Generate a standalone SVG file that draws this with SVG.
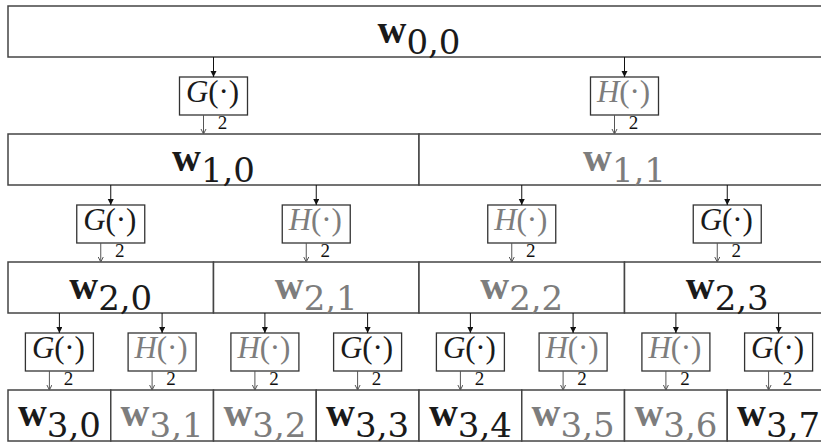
<svg xmlns="http://www.w3.org/2000/svg" width="821" height="444" viewBox="0 0 821 444">
<style>
.cell{fill:#fff;stroke:#444;stroke-width:1.5}
.box{fill:#fff;stroke:#333;stroke-width:1.3}
.lab{font-family:"Liberation Serif",serif;text-anchor:middle}
.w{font-weight:bold;font-size:40px}
.s{font-family:"DejaVu Serif",serif;font-size:34px}
.k{fill:#1a1a1a}
.g{fill:#7d7d7d}
.f{font-family:"Liberation Serif",serif;font-size:31px;text-anchor:middle}
.two{font-family:"Liberation Serif",serif;font-size:19px;fill:#111;text-anchor:middle}
.in{stroke:#111;stroke-width:1;marker-end:url(#ah)}
.out{stroke:#555;stroke-width:1;marker-end:url(#oh)}
</style>
<defs>
<marker id="ah" markerWidth="8" markerHeight="8" refX="6" refY="3" orient="auto" markerUnits="userSpaceOnUse"><path d="M0,0 L6,3 L0,6 Z" fill="#111"/></marker>
<marker id="oh" markerWidth="8" markerHeight="8" refX="5" refY="3" orient="auto" markerUnits="userSpaceOnUse"><path d="M0,0.5 L5,3 L0,5.5" fill="none" stroke="#555" stroke-width="1"/></marker>
</defs>
<rect width="821" height="444" fill="#fff"/>

<!-- Row 0 -->
<g id="w00"><rect class="cell" x="8" y="6" width="822" height="51"/><text class="lab k" x="419" y="43"><tspan class="w">w</tspan><tspan class="s" dy="11">0,0</tspan></text></g>

<!-- Row 1 -->
<g id="w10"><rect class="cell" x="8" y="134" width="411" height="51"/><text class="lab k" x="213.5" y="171"><tspan class="w">w</tspan><tspan class="s" dy="11">1,0</tspan></text></g>
<g id="w11"><rect class="cell" x="419" y="134" width="411" height="51"/><text class="lab g" x="624.5" y="171"><tspan class="w">w</tspan><tspan class="s" dy="11">1,1</tspan></text></g>

<!-- Row 2 -->
<g id="w20"><rect class="cell" x="8" y="262" width="205.5" height="51"/><text class="lab k" x="110.75" y="299"><tspan class="w">w</tspan><tspan class="s" dy="11">2,0</tspan></text></g>
<g id="w21"><rect class="cell" x="213.5" y="262" width="205.5" height="51"/><text class="lab g" x="316.25" y="299"><tspan class="w">w</tspan><tspan class="s" dy="11">2,1</tspan></text></g>
<g id="w22"><rect class="cell" x="419" y="262" width="205.5" height="51"/><text class="lab g" x="521.75" y="299"><tspan class="w">w</tspan><tspan class="s" dy="11">2,2</tspan></text></g>
<g id="w23"><rect class="cell" x="624.5" y="262" width="205.5" height="51"/><text class="lab k" x="727.25" y="299"><tspan class="w">w</tspan><tspan class="s" dy="11">2,3</tspan></text></g>

<!-- Row 3 -->
<g id="w30"><rect class="cell" x="8" y="390" width="102.75" height="51"/><text class="lab k" x="59.4" y="426"><tspan class="w">w</tspan><tspan class="s" dy="11">3,0</tspan></text></g>
<g id="w31"><rect class="cell" x="110.75" y="390" width="102.75" height="51"/><text class="lab g" x="162.1" y="426"><tspan class="w">w</tspan><tspan class="s" dy="11">3,1</tspan></text></g>
<g id="w32"><rect class="cell" x="213.5" y="390" width="102.75" height="51"/><text class="lab g" x="264.9" y="426"><tspan class="w">w</tspan><tspan class="s" dy="11">3,2</tspan></text></g>
<g id="w33"><rect class="cell" x="316.25" y="390" width="102.75" height="51"/><text class="lab k" x="367.6" y="426"><tspan class="w">w</tspan><tspan class="s" dy="11">3,3</tspan></text></g>
<g id="w34"><rect class="cell" x="419" y="390" width="102.75" height="51"/><text class="lab k" x="470.4" y="426"><tspan class="w">w</tspan><tspan class="s" dy="11">3,4</tspan></text></g>
<g id="w35"><rect class="cell" x="521.75" y="390" width="102.75" height="51"/><text class="lab g" x="573.1" y="426"><tspan class="w">w</tspan><tspan class="s" dy="11">3,5</tspan></text></g>
<g id="w36"><rect class="cell" x="624.5" y="390" width="102.75" height="51"/><text class="lab g" x="675.9" y="426"><tspan class="w">w</tspan><tspan class="s" dy="11">3,6</tspan></text></g>
<g id="w37"><rect class="cell" x="727.25" y="390" width="102.75" height="51"/><text class="lab k" x="778.6" y="426"><tspan class="w">w</tspan><tspan class="s" dy="11">3,7</tspan></text></g>

<!-- Filters level 1 -->
<g id="f1a"><rect class="box" x="179.5" y="77" width="68" height="38"/><text class="f k" x="212.5" y="102" textLength="53"><tspan font-style="italic">G</tspan>(·)</text></g>
<g id="f1b"><rect class="box" x="590.5" y="77" width="68" height="38"/><text class="f g" x="623.5" y="102" textLength="53"><tspan font-style="italic">H</tspan>(·)</text></g>
<!-- Filters level 2 -->
<g id="f2a"><rect class="box" x="76.75" y="205" width="68" height="38"/><text class="f k" x="109.75" y="230" textLength="53"><tspan font-style="italic">G</tspan>(·)</text></g>
<g id="f2b"><rect class="box" x="282.25" y="205" width="68" height="38"/><text class="f g" x="315.25" y="230" textLength="53"><tspan font-style="italic">H</tspan>(·)</text></g>
<g id="f2c"><rect class="box" x="487.75" y="205" width="68" height="38"/><text class="f g" x="520.75" y="230" textLength="53"><tspan font-style="italic">H</tspan>(·)</text></g>
<g id="f2d"><rect class="box" x="693.25" y="205" width="68" height="38"/><text class="f k" x="726.25" y="230" textLength="53"><tspan font-style="italic">G</tspan>(·)</text></g>
<!-- Filters level 3 -->
<g id="f3a"><rect class="box" x="25.4" y="333" width="68" height="38"/><text class="f k" x="58.4" y="358" textLength="53"><tspan font-style="italic">G</tspan>(·)</text></g>
<g id="f3b"><rect class="box" x="128.1" y="333" width="68" height="38"/><text class="f g" x="161.1" y="358" textLength="53"><tspan font-style="italic">H</tspan>(·)</text></g>
<g id="f3c"><rect class="box" x="230.9" y="333" width="68" height="38"/><text class="f g" x="263.9" y="358" textLength="53"><tspan font-style="italic">H</tspan>(·)</text></g>
<g id="f3d"><rect class="box" x="333.6" y="333" width="68" height="38"/><text class="f k" x="366.6" y="358" textLength="53"><tspan font-style="italic">G</tspan>(·)</text></g>
<g id="f3e"><rect class="box" x="436.4" y="333" width="68" height="38"/><text class="f k" x="469.4" y="358" textLength="53"><tspan font-style="italic">G</tspan>(·)</text></g>
<g id="f3f"><rect class="box" x="539.1" y="333" width="68" height="38"/><text class="f g" x="572.1" y="358" textLength="53"><tspan font-style="italic">H</tspan>(·)</text></g>
<g id="f3g"><rect class="box" x="641.9" y="333" width="68" height="38"/><text class="f g" x="674.9" y="358" textLength="53"><tspan font-style="italic">H</tspan>(·)</text></g>
<g id="f3h"><rect class="box" x="744.6" y="333" width="68" height="38"/><text class="f k" x="777.6" y="358" textLength="53"><tspan font-style="italic">G</tspan>(·)</text></g>

<!-- Connectors -->
<g id="connectors">
<line class="in" x1="213.5" y1="57" x2="213.5" y2="77"/>
<line class="in" x1="624.5" y1="57" x2="624.5" y2="77"/>
<line class="out" x1="203.5" y1="115" x2="203.5" y2="134"/>
<line class="out" x1="614.5" y1="115" x2="614.5" y2="134"/>

<line class="in" x1="110.75" y1="185" x2="110.75" y2="205"/>
<line class="in" x1="316.25" y1="185" x2="316.25" y2="205"/>
<line class="in" x1="521.75" y1="185" x2="521.75" y2="205"/>
<line class="in" x1="727.25" y1="185" x2="727.25" y2="205"/>
<line class="out" x1="100.75" y1="243" x2="100.75" y2="262"/>
<line class="out" x1="306.25" y1="243" x2="306.25" y2="262"/>
<line class="out" x1="511.75" y1="243" x2="511.75" y2="262"/>
<line class="out" x1="717.25" y1="243" x2="717.25" y2="262"/>

<line class="in" x1="59.4" y1="313" x2="59.4" y2="333"/>
<line class="in" x1="162.1" y1="313" x2="162.1" y2="333"/>
<line class="in" x1="264.9" y1="313" x2="264.9" y2="333"/>
<line class="in" x1="367.6" y1="313" x2="367.6" y2="333"/>
<line class="in" x1="470.4" y1="313" x2="470.4" y2="333"/>
<line class="in" x1="573.1" y1="313" x2="573.1" y2="333"/>
<line class="in" x1="675.9" y1="313" x2="675.9" y2="333"/>
<line class="in" x1="778.6" y1="313" x2="778.6" y2="333"/>
<line class="out" x1="49.4" y1="371" x2="49.4" y2="390"/>
<line class="out" x1="152.1" y1="371" x2="152.1" y2="390"/>
<line class="out" x1="254.9" y1="371" x2="254.9" y2="390"/>
<line class="out" x1="357.6" y1="371" x2="357.6" y2="390"/>
<line class="out" x1="460.4" y1="371" x2="460.4" y2="390"/>
<line class="out" x1="563.1" y1="371" x2="563.1" y2="390"/>
<line class="out" x1="665.9" y1="371" x2="665.9" y2="390"/>
<line class="out" x1="768.6" y1="371" x2="768.6" y2="390"/>

<text class="two" x="222.5" y="129">2</text>
<text class="two" x="633.5" y="129">2</text>
<text class="two" x="119.75" y="257">2</text>
<text class="two" x="325.25" y="257">2</text>
<text class="two" x="530.75" y="257">2</text>
<text class="two" x="736.25" y="257">2</text>
<text class="two" x="68.4" y="385">2</text>
<text class="two" x="171.1" y="385">2</text>
<text class="two" x="273.9" y="385">2</text>
<text class="two" x="376.6" y="385">2</text>
<text class="two" x="479.4" y="385">2</text>
<text class="two" x="582.1" y="385">2</text>
<text class="two" x="684.9" y="385">2</text>
<text class="two" x="787.6" y="385">2</text>
</g>
</svg>
